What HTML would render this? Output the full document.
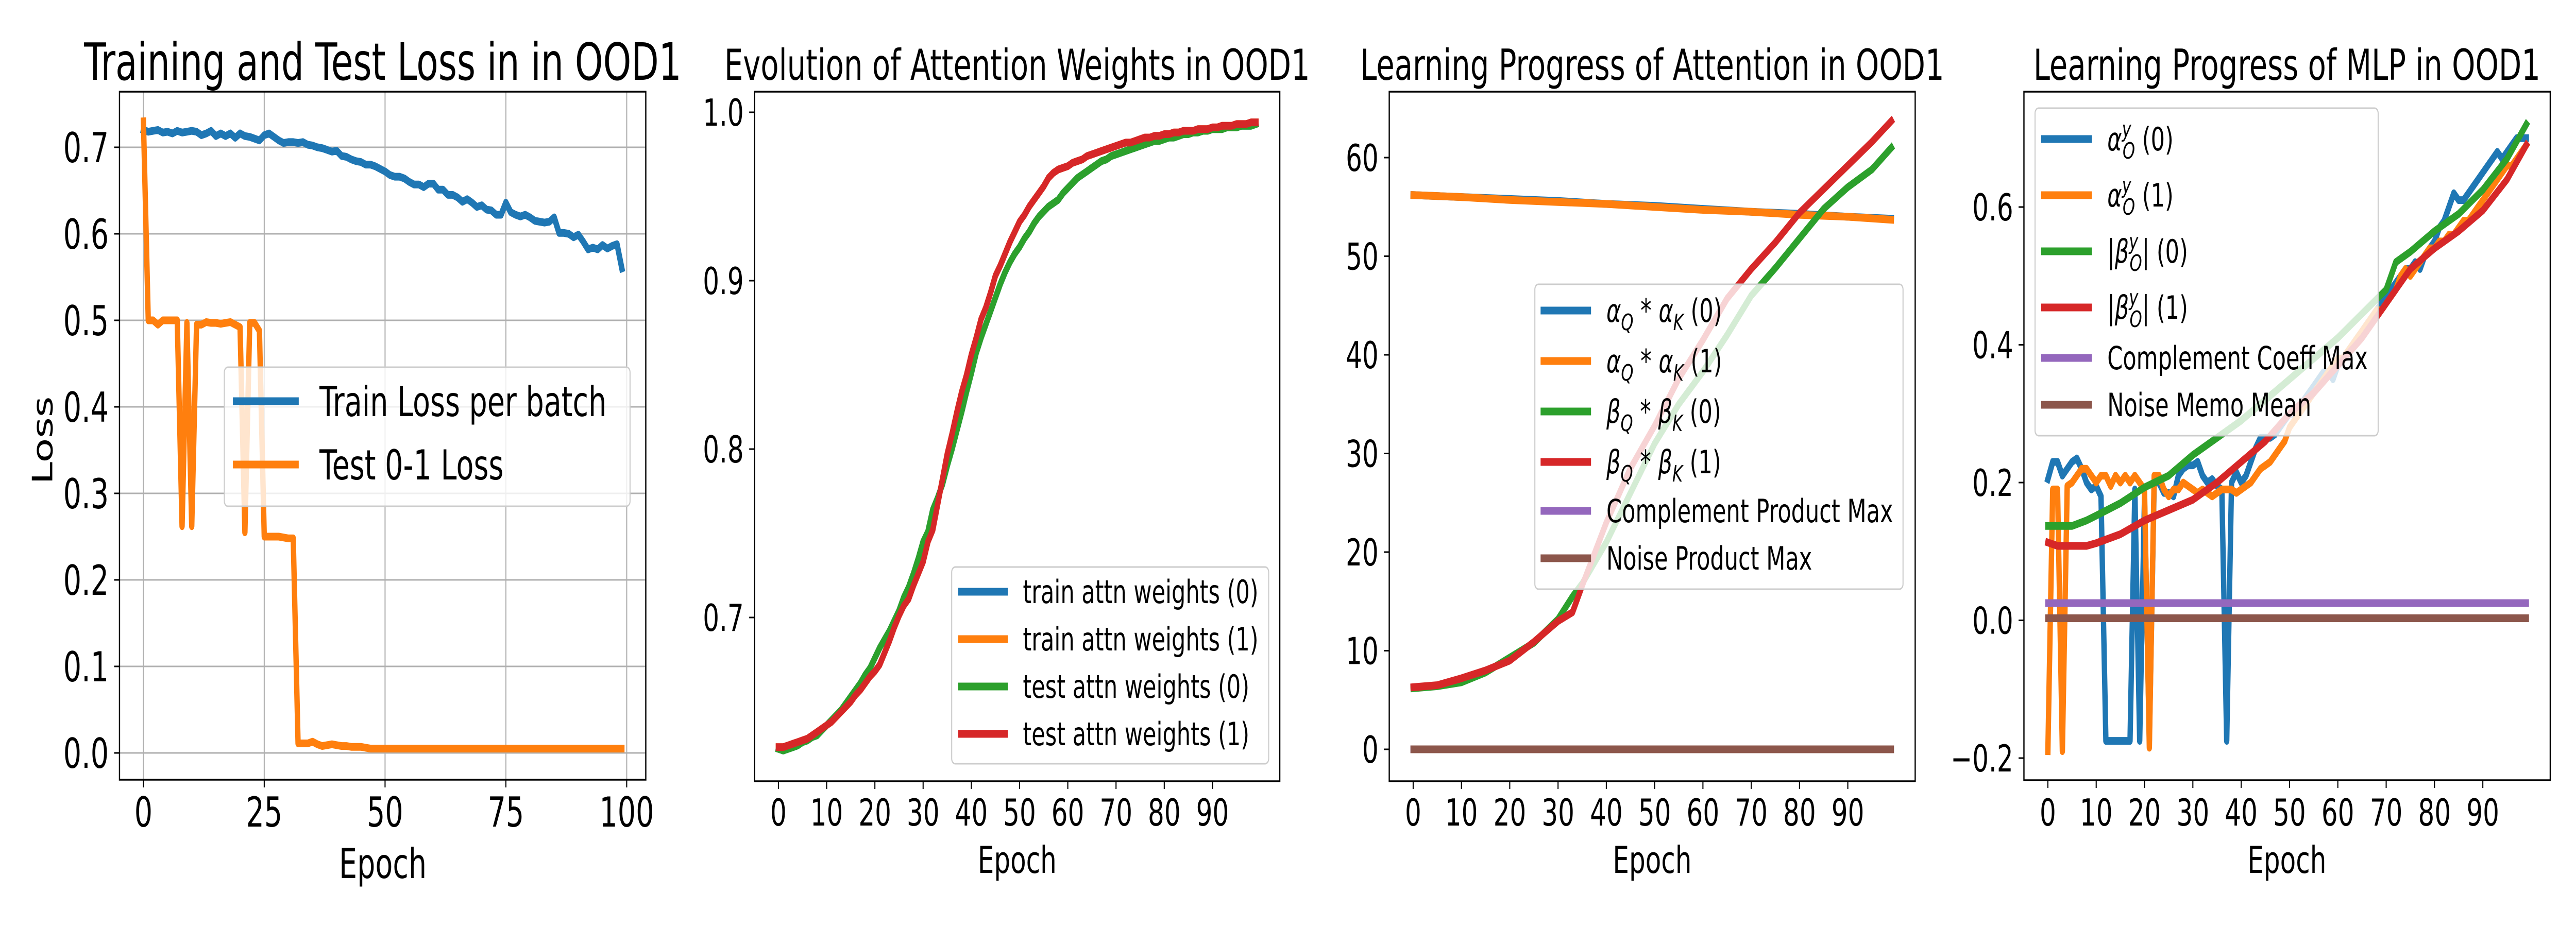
<!DOCTYPE html>
<html><head><meta charset="utf-8"><style>
html,body{margin:0;padding:0;background:#fff;width:100%;height:100%;overflow:hidden;}
svg{display:block;position:absolute;left:0;top:0;width:100vw;height:100vh;font-family:"DejaVu Sans","Liberation Sans",sans-serif;}
</style></head><body>
<svg id="fig" viewBox="0 0 7200 1800" preserveAspectRatio="none" xmlns="http://www.w3.org/2000/svg">
<rect x="0" y="0" width="7200" height="1800" fill="#fff"/>
</svg>
<script>
// ---------- DATA ----------
const epochs = Array.from({length:100},(_,i)=>i);
// Panel 1
const p1TrainLoss = [.720,.718,.719,.720,.717,.718,.716,.719,.717,.718,
 .719,.718,.714,.716,.719,.713,.716,.713,.716,.711,
 .716,.713,.712,.710,.708,.714,.716,.712,.708,.705,
 .706,.706,.705,.706,.703,.702,.700,.699,.697,.695,
 .696,.690,.689,.686,.684,.683,.680,.680,.678,.675,
 .672,.668,.666,.666,.664,.660,.657,.657,.654,.658,
 .658,.651,.651,.645,.645,.642,.637,.640,.636,.631,
 .633,.628,.627,.622,.622,.636,.625,.622,.620,.622,
 .619,.615,.614,.613,.614,.619,.601,.601,.600,.596,
 .599,.591,.582,.584,.582,.587,.583,.586,.588,.560];
const p1TestLoss = [.73,.50,.50,.495,.50,.50,.50,.50,.262,.497,
 .262,.495,.495,.498,.497,.497,.496,.497,.498,.495,
 .492,.255,.497,.497,.488,.25,.25,.25,.25,.249,
 .248,.248,.011,.011,.011,.013,.010,.008,.009,.010,
 .009,.008,.008,.007,.007,.007,.006,.005,.005,.005,
 .005,.005,.005,.005,.005,.005,.005,.005,.005,.005,
 .005,.005,.005,.005,.005,.005,.005,.005,.005,.005,
 .005,.005,.005,.005,.005,.005,.005,.005,.005,.005,
 .005,.005,.005,.005,.005,.005,.005,.005,.005,.005,
 .005,.005,.005,.005,.005,.005,.005,.005,.005,.005];
const p1XTicks = [0,25,50,75,100];
const p1YTicks = [0,0.1,0.2,0.3,0.4,0.5,0.6,0.7];
const p1YTickLabels = ["0.0","0.1","0.2","0.3","0.4","0.5","0.6","0.7"];
// Panel 2
const p2Attn0 = [.622,.621,.622,.623,.624,.626,.627,.629,.630,.633,
 .636,.639,.642,.645,.649,.653,.657,.661,.666,.670,
 .676,.682,.687,.692,.698,.704,.712,.718,.726,.735,
 .745,.751,.764,.771,.779,.790,.800,.811,.822,.834,
 .845,.857,.866,.874,.882,.890,.898,.905,.911,.916,
 .920,.925,.929,.934,.938,.941,.944,.946,.948,.952,
 .955,.958,.961,.963,.965,.967,.969,.971,.972,.974,
 .975,.976,.977,.978,.979,.980,.981,.982,.983,.983,
 .984,.985,.985,.986,.987,.987,.988,.988,.989,.989,
 .990,.990,.990,.991,.991,.991,.992,.992,.992,.993];
const p2Attn1 = [.623,.623,.624,.625,.626,.627,.628,.630,.632,.634,
 .636,.638,.641,.644,.647,.650,.654,.657,.661,.665,
 .668,.672,.679,.686,.694,.701,.707,.711,.719,.726,
 .733,.745,.752,.767,.782,.797,.809,.822,.834,.844,
 .856,.866,.877,.884,.893,.903,.909,.916,.923,.929,
 .935,.939,.944,.948,.952,.956,.961,.964,.966,.967,
 .968,.970,.971,.972,.974,.975,.976,.977,.978,.979,
 .980,.981,.982,.982,.983,.984,.985,.985,.986,.986,
 .987,.987,.988,.988,.989,.989,.989,.990,.990,.990,
 .991,.991,.992,.992,.992,.993,.993,.993,.994,.994];
const p2YTicks = [0.7,0.8,0.9,1.0];
const p2YTickLabels = ["0.7","0.8","0.9","1.0"];
const tenTicks = [0,10,20,30,40,50,60,70,80,90];
// Panel 3
const p3AlphaEpochs = [0,10,20,30,40,50,60,70,80,90,99];
const p3Alpha0 = [56.2,56.0,55.8,55.6,55.3,55.1,54.8,54.5,54.3,54.0,53.8];
const p3Alpha1 = [56.2,56.0,55.7,55.5,55.3,55.0,54.7,54.5,54.2,54.0,53.7];
const p3BetaEpochs = [0,5,10,15,20,25,30,33,35,40,45,50,55,60,65,70,75,80,85,90,95,99];
const p3Beta0 = [6.2,6.4,6.8,7.8,9.3,10.8,13.2,15.5,16.8,21,26,31,35,38.3,42,46,48.8,51.8,54.8,57.0,58.8,61.0];
const p3Beta1 = [6.3,6.5,7.2,8.0,9.0,10.9,13.0,13.9,16.6,23,28.5,32.8,37.6,41.5,45.7,48.7,51.4,54.4,56.8,59.2,61.6,63.7];
const p3Flat = [0,0];
const p3FlatEpochs = [0,99];
const p3YTicks = [0,10,20,30,40,50,60];
// Panel 4
const p4Alpha0 = [.205,.23,.23,.21,.22,.23,.235,.22,.20,.19,
 .195,.18,-.175,-.175,-.175,-.175,-.175,-.175,.19,-.175,
 .18,-.175,.20,.20,.185,.185,.18,.21,.22,.225,
 .225,.23,.21,.20,.205,.195,.19,-.175,.20,.215,
 .20,.21,.23,.25,.265,.265,.265,.27,.28,.29,
 .30,.30,.31,.32,.33,.34,.35,.36,.36,.35,
 .37,.38,.39,.40,.41,.42,.43,.44,.45,.46,
 .47,.48,.49,.50,.51,.51,.52,.51,.53,.54,
 .55,.57,.58,.60,.62,.61,.61,.62,.63,.64,
 .65,.66,.67,.68,.67,.68,.69,.70,.70,.70];
const p4Alpha1 = [-.19,.19,.19,-.19,.195,.20,.21,.22,.22,.21,
 .20,.21,.21,.195,.21,.20,.21,.20,.21,.20,
 .19,-.185,.21,.21,.19,.18,.19,.19,.20,.195,
 .19,.185,.19,.185,.18,.185,.19,.19,.19,.185,
 .19,.195,.20,.21,.22,.225,.23,.24,.25,.26,
 .28,.29,.30,.31,.32,.33,.34,.35,.36,.37,
 .38,.38,.39,.40,.41,.42,.43,.44,.45,.45,
 .46,.47,.48,.50,.51,.50,.51,.52,.53,.54,
 .54,.55,.55,.56,.56,.57,.58,.58,.59,.60,
 .61,.62,.63,.64,.65,.66,.66,.67,.68,.69];
const p4BetaEpochs = [0,2,5,8,10,15,20,25,30,35,40,45,50,55,60,65,70,72,75,80,85,90,95,99];
const p4Beta0 = [.137,.137,.137,.145,.152,.17,.193,.21,.24,.265,.29,.32,.35,.38,.41,.445,.48,.52,.535,.565,.59,.625,.67,.72];
const p4Beta1 = [.113,.108,.108,.108,.112,.125,.145,.16,.175,.20,.23,.26,.30,.33,.37,.41,.46,.48,.51,.54,.565,.595,.64,.69];
const p4FlatEpochs = [0,99];
const p4Complement = [0.025,0.025];
const p4Noise = [0.003,0.003];
const p4YTicks = [-0.2,0,0.2,0.4,0.6];
const p4YTickLabels = ["\u22120.2","0.0","0.2","0.4","0.6"];

// ---------- DRAW ----------
const NS="http://www.w3.org/2000/svg";
const svg=document.getElementById('fig');
function mk(tag,attrs,parent){const e=document.createElementNS(NS,tag);for(const k in attrs)e.setAttribute(k,attrs[k]);(parent||svg).appendChild(e);return e;}
const C={blue:'#1f77b4',orange:'#ff7f0e',green:'#2ca02c',red:'#d62728',purple:'#9467bd',brown:'#8c564b'};

function makeAxes(L,R,T,B,y1v,y1p,y2v,y2p){
  const xs=v=>L+(v+4.95)/108.9*(R-L);
  const k=(y2p-y1p)/(y2v-y1v);
  const ys=v=>y1p+(v-y1v)*k;
  return {L,R,T,B,xs,ys};
}
function frame(ax,name,g){
  const r=mk('rect',{x:ax.L,y:ax.T,width:ax.R-ax.L,height:ax.B-ax.T,fill:'none',stroke:'#000','stroke-width':3.5},g);
  
  
}
function clip(ax,id){
  const cp=mk('clipPath',{id:id});
  mk('rect',{x:ax.L,y:ax.T,width:ax.R-ax.L,height:ax.B-ax.T},cp);
}
function xticks(ax,ticks,fs,grid,g,labY){
  ticks.forEach(t=>{
    const x=ax.xs(t);
    if(grid){const gl=mk('line',{x1:x,x2:x,y1:ax.T,y2:ax.B,stroke:'#b0b0b0','stroke-width':3},g);
      
      }
    mk('line',{x1:x,x2:x,y1:ax.B,y2:ax.B+15,stroke:'#000','stroke-width':3},g);
    const tx=mk('text',{x:x,y:labY,'font-size':fs,'text-anchor':'middle',fill:'#000'},g);
    tx.textContent=String(t);
    
    
  });
}
function yticks(ax,ticks,labels,fs,grid,g){
  ticks.forEach((t,i)=>{
    const y=ax.ys(t);
    if(grid){const gl=mk('line',{x1:ax.L,x2:ax.R,y1:y,y2:y,stroke:'#b0b0b0','stroke-width':3},g);
      
      }
    mk('line',{x1:ax.L-15,x2:ax.L,y1:y,y2:y,stroke:'#000','stroke-width':3},g);
    const tx=mk('text',{x:ax.L-30,y:y+fs*0.36,'font-size':fs,'text-anchor':'end',fill:'#000'},g);
    tx.textContent=labels?labels[i]:String(t);
    
    
  });
}
function line(ax,xsArr,vals,color,name,g,cid){
  const d=vals.map((v,i)=>(i?'L':'M')+ax.xs(xsArr[i]).toFixed(1)+','+ax.ys(v).toFixed(1)).join('');
  const p=mk('path',{d:d,fill:'none',stroke:color,'stroke-width':15,'stroke-linejoin':'round','stroke-linecap':'square','clip-path':'url(#'+cid+')'},g);
  
  
  return p;
}
function text(g,x,y,fs,str,anchor,name){
  const t=mk('text',{x:x,y:y,'font-size':fs,'text-anchor':anchor||'middle',fill:'#000'},g);
  t.textContent=str;
  
  
  return t;
}
function legendBox(g,x,y,w,h,name){
  const r=mk('rect',{x:x,y:y,width:w,height:h,rx:10,fill:'#fff','fill-opacity':0.8,stroke:'#cccccc','stroke-width':3},g);
  
  
}
function legendEntry(g,hx1,hx2,y,color,name){
  const l=mk('line',{x1:hx1,x2:hx2,y1:y,y2:y,stroke:color,'stroke-width':15},g);
  
  
}

// ===== Panel 1 =====
{
const g=mk('g',{});  
const ax=makeAxes(334,1805,178,1514,0,1462,0.7,286);
clip(ax,'c1');
xticks(ax,p1XTicks,80,true,g,1605);
yticks(ax,p1YTicks,p1YTickLabels,80,true,g);
line(ax,epochs,p1TrainLoss,C.blue,'train-loss-line',g,'c1');
line(ax,epochs,p1TestLoss,C.orange,'test-loss-line',g,'c1');
frame(ax,'loss-panel',g);
text(g,1070,155,100,'Training and Test Loss in in OOD1','middle','loss-panel-title');
text(g,1070,1705,80,'Epoch','middle','x-axis-title');
const yl=text(g,0,0,78,'Loss','middle','y-axis-title');
yl.setAttribute('transform','translate(146,855) rotate(-90)');
legendBox(g,627,713,1134,270,'loss-legend');
legendEntry(g,651,835,779,C.blue,'legend-entry-train-loss');
text(g,893,808,80,'Train Loss per batch','start','legend-label-train-loss');
legendEntry(g,651,835,902,C.orange,'legend-entry-test-loss');
text(g,893,931,80,'Test 0-1 Loss','start','legend-label-test-loss');
}

// ===== Panel 2 =====
{
const g=mk('g',{});  
const ax=makeAxes(2109,3577,178,1517,1.0,218,0.7,1199);
clip(ax,'c2');
xticks(ax,tenTicks,72,false,g,1603);
yticks(ax,p2YTicks,p2YTickLabels,72,false,g);
line(ax,epochs,p2Attn0,C.blue,'train-attn-weights-0-line',g,'c2');
line(ax,epochs,p2Attn1,C.orange,'train-attn-weights-1-line',g,'c2');
line(ax,epochs,p2Attn0,C.green,'test-attn-weights-0-line',g,'c2');
line(ax,epochs,p2Attn1,C.red,'test-attn-weights-1-line',g,'c2');
frame(ax,'attention-weights-panel',g);
text(g,2843,155,83,'Evolution of Attention Weights in OOD1','middle','attention-weights-title');
text(g,2843,1695,72,'Epoch','middle','x-axis-title');
legendBox(g,2660,1101,886,382,'attention-weights-legend');
const labs=['train attn weights (0)','train attn weights (1)','test attn weights (0)','test attn weights (1)'];
const cols=[C.blue,C.orange,C.green,C.red];
const ys=[1149,1241,1333,1425];
labs.forEach((s,i)=>{
  legendEntry(g,2678,2817,ys[i],cols[i],'legend-entry-'+i);
  text(g,2859,ys[i]+22,62,s,'start','legend-label-'+i);
});
}

// ===== Panel 3 =====
function mathLabel(g,x,y,fs,parts,name){
  const t=mk('text',{x:x,y:y,'font-size':fs,fill:'#000'},g);
  
  
  parts.forEach(p=>{
    const s=mk('tspan',{},t);
    if(p.it)s.setAttribute('font-style','italic');
    if(p.dy)s.setAttribute('dy',p.dy);
    if(p.dx)s.setAttribute('dx',p.dx);
    if(p.fs)s.setAttribute('font-size',p.fs);
    s.textContent=p.t;
  });
}
{
const g=mk('g',{});  
const ax=makeAxes(3883,5353,178,1517,60,306,0,1455);
clip(ax,'c3');
xticks(ax,tenTicks,72,false,g,1603);
yticks(ax,p3YTicks,null,72,false,g);
line(ax,p3AlphaEpochs,p3Alpha0,C.blue,'alpha-product-0-line',g,'c3');
line(ax,p3AlphaEpochs,p3Alpha1,C.orange,'alpha-product-1-line',g,'c3');
line(ax,p3BetaEpochs,p3Beta0,C.green,'beta-product-0-line',g,'c3');
line(ax,p3BetaEpochs,p3Beta1,C.red,'beta-product-1-line',g,'c3');
line(ax,p3FlatEpochs,p3Flat,C.purple,'complement-product-max-line',g,'c3');
line(ax,p3FlatEpochs,p3Flat,C.brown,'noise-product-max-line',g,'c3');
frame(ax,'attention-progress-panel',g);
text(g,4618,155,83,'Learning Progress of Attention in OOD1','middle','attention-progress-title');
text(g,4618,1695,72,'Epoch','middle','x-axis-title');
legendBox(g,4290,552,1029,592,'attention-progress-legend');
const cols=[C.blue,C.orange,C.green,C.red,C.purple,C.brown];
const ys=[603,701,799,897,992,1084];
cols.forEach((c,i)=>legendEntry(g,4306,4447,ys[i],c,'legend-entry-'+i));
const sub=(a,n)=>[{t:a,it:1},{t:'Q',it:1,fs:44,dy:16},{t:' * ',dy:-16},{t:a,it:1},{t:'K',it:1,fs:44,dy:16},{t:' ('+n+')',dy:-16}];
mathLabel(g,4490,ys[0]+22,62,sub('\u03b1',0),'legend-label-alpha-0');
mathLabel(g,4490,ys[1]+22,62,sub('\u03b1',1),'legend-label-alpha-1');
mathLabel(g,4490,ys[2]+22,62,sub('\u03b2',0),'legend-label-beta-0');
mathLabel(g,4490,ys[3]+22,62,sub('\u03b2',1),'legend-label-beta-1');
text(g,4490,ys[4]+22,62,'Complement Product Max','start','legend-label-complement');
text(g,4490,ys[5]+22,62,'Noise Product Max','start','legend-label-noise');
}

// ===== Panel 4 =====
{
const g=mk('g',{});  
const ax=makeAxes(5657,7128,178,1515,0.6,402,-0.2,1472);
clip(ax,'c4');
xticks(ax,tenTicks,72,false,g,1603);
yticks(ax,p4YTicks,p4YTickLabels,72,false,g);
line(ax,epochs,p4Alpha0,C.blue,'alpha-o-0-line',g,'c4');
line(ax,epochs,p4Alpha1,C.orange,'alpha-o-1-line',g,'c4');
line(ax,p4BetaEpochs,p4Beta0,C.green,'beta-o-0-line',g,'c4');
line(ax,p4BetaEpochs,p4Beta1,C.red,'beta-o-1-line',g,'c4');
line(ax,p4FlatEpochs,p4Complement,C.purple,'complement-coeff-max-line',g,'c4');
line(ax,p4FlatEpochs,p4Noise,C.brown,'noise-memo-mean-line',g,'c4');
frame(ax,'mlp-progress-panel',g);
text(g,6392,155,83,'Learning Progress of MLP in OOD1','middle','mlp-progress-title');
text(g,6392,1695,72,'Epoch','middle','x-axis-title');
legendBox(g,5688,210,959,636,'mlp-progress-legend');
const cols=[C.blue,C.orange,C.green,C.red,C.purple,C.brown];
const ys=[270,379,488,597,695,786];
cols.forEach((c,i)=>legendEntry(g,5705,5847,ys[i],c,'legend-entry-'+i));
const al=n=>[{t:'\u03b1',it:1},{t:'y',it:1,fs:44,dy:-26},{t:'O',it:1,fs:44,dx:-24,dy:42},{t:' ('+n+')',dy:-16}];
const be=n=>[{t:'|'},{t:'\u03b2',it:1},{t:'y',it:1,fs:44,dy:-26},{t:'O',it:1,fs:44,dx:-24,dy:42},{t:'| ('+n+')',dy:-16}];
mathLabel(g,5890,ys[0]+22,62,al(0),'legend-label-alpha-o-0');
mathLabel(g,5890,ys[1]+22,62,al(1),'legend-label-alpha-o-1');
mathLabel(g,5890,ys[2]+22,62,be(0),'legend-label-beta-o-0');
mathLabel(g,5890,ys[3]+22,62,be(1),'legend-label-beta-o-1');
text(g,5890,ys[4]+22,62,'Complement Coeff Max','start','legend-label-complement');
text(g,5890,ys[5]+22,62,'Noise Memo Mean','start','legend-label-noise');
}
</script>
</body></html>
